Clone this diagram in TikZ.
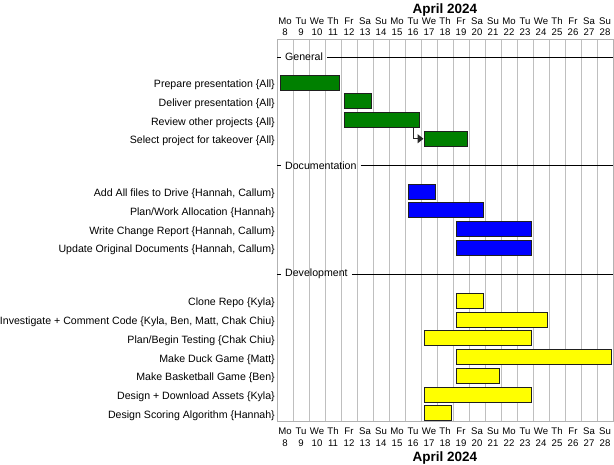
\documentclass[tikz,border=0pt]{standalone}
\usepackage{fontspec}
\setmainfont{Liberation Sans}
\usepackage{tikz}
\usetikzlibrary{arrows.meta, positioning, calc}

\definecolor{ganttgreen}{RGB}{0,128,0}
\definecolor{ganttblue}{RGB}{0,0,255}
\definecolor{ganttyellow}{RGB}{255,255,0}

\begin{document}
\begin{tikzpicture}[x=1pt, y=-1pt,
    bar/.style={draw=black!88, line width=1pt, minimum height=15pt, inner sep=0pt, anchor=west},
    tasklabel/.style={font=\fontsize{10.6}{13}\selectfont, anchor=base east, inner sep=0pt},
    daylabel/.style={font=\fontsize{9.6}{12}\selectfont, anchor=base, inner sep=0pt},
    monthlabel/.style={font=\fontsize{13.5}{15}\selectfont\bfseries, anchor=base, inner sep=0pt},
    grouplabel/.style={font=\fontsize{10.6}{13}\selectfont, anchor=west, inner xsep=4pt, inner ysep=0pt},
    groupline/.style={black, line width=1pt},
    gridline/.style={gray!50, line width=1pt},
    dep/.style={black!85, line width=1.3pt, -{Triangle[length=6pt, width=9pt]}}]
    \useasboundingbox (0,0) rectangle (614,464);

    % day grid
    \foreach \d in {1,...,20}
        \draw[gridline] (277+\d*16, 39) -- (277+\d*16, 421);
    \draw[gray!60, line width=1pt] (277,39) rectangle (613,421);

    % calendar header and footer
    \node[monthlabel] (month-top) at (445, 13.3) {April 2024};
    \node[monthlabel] (month-bottom) at (445, 461.8) {April 2024};
    \foreach \nm [count=\i from 0] in {Mo,Tu,We,Th,Fr,Sa,Su,Mo,Tu,We,Th,Fr,Sa,Su,Mo,Tu,We,Th,Fr,Sa,Su} {
        \pgfmathtruncatemacro\num{8+\i}
        \node[daylabel] (dname-top-\i) at (285+\i*16, 24) {\nm};
        \node[daylabel] (dnum-top-\i) at (285+\i*16, 35.5) {\num};
        \node[daylabel] (dname-bot-\i) at (285+\i*16, 434) {\nm};
        \node[daylabel] (dnum-bot-\i) at (285+\i*16, 446.7) {\num};
    }

    % groups
    \foreach \id/\y/\t in {general/57/General, docs/165.5/Documentation, dev/274/Development} {
        \node[grouplabel] (\id) at (281, \y) {\t};
        \draw[groupline] (277, \y) -- (\id.west);
        \draw[groupline] (\id.east) -- (613, \y);
    }

    % tasks: name/start/end/row/colour/label
    \foreach \id/\s/\e/\y/\c/\t in {
        prep/8/11/82.5/ganttgreen/{Prepare presentation \{All\}},
        deliver/12/13/101.25/ganttgreen/{Deliver presentation \{All\}},
        review/12/16/120/ganttgreen/{Review other projects \{All\}},
        select/17/19/138.75/ganttgreen/{Select project for takeover \{All\}},
        addfiles/16/17/191.5/ganttblue/{Add All files to Drive \{Hannah, Callum\}},
        planwork/16/20/210.25/ganttblue/{Plan/Work Allocation \{Hannah\}},
        change/19/23/229/ganttblue/{Write Change Report \{Hannah, Callum\}},
        update/19/23/247.75/ganttblue/{Update Original Documents \{Hannah, Callum\}},
        clone/19/20/300.75/ganttyellow/{Clone Repo \{Kyla\}},
        investigate/19/24/319.5/ganttyellow/{Investigate + Comment Code \{Kyla, Ben, Matt, Chak Chiu\}},
        testing/17/23/338.25/ganttyellow/{Plan/Begin Testing \{Chak Chiu\}},
        duck/19/28/357/ganttyellow/{Make Duck Game \{Matt\}},
        basketball/19/21/375.75/ganttyellow/{Make Basketball Game \{Ben\}},
        assets/17/23/394.5/ganttyellow/{Design + Download Assets \{Kyla\}},
        scoring/17/18/413.25/ganttyellow/{Design Scoring Algorithm \{Hannah\}}} {
        \node[bar, fill=\c, minimum width={(\e-\s+1)*16-5}] (\id) at ({277+(\s-8)*16+2.5}, \y) {};
        \node[tasklabel] (\id-lbl) at (275, \y+5) {\t};
    }

    \draw[dep] ([xshift=-6pt]review.south east) |- (select.west);
\end{tikzpicture}
\end{document}
